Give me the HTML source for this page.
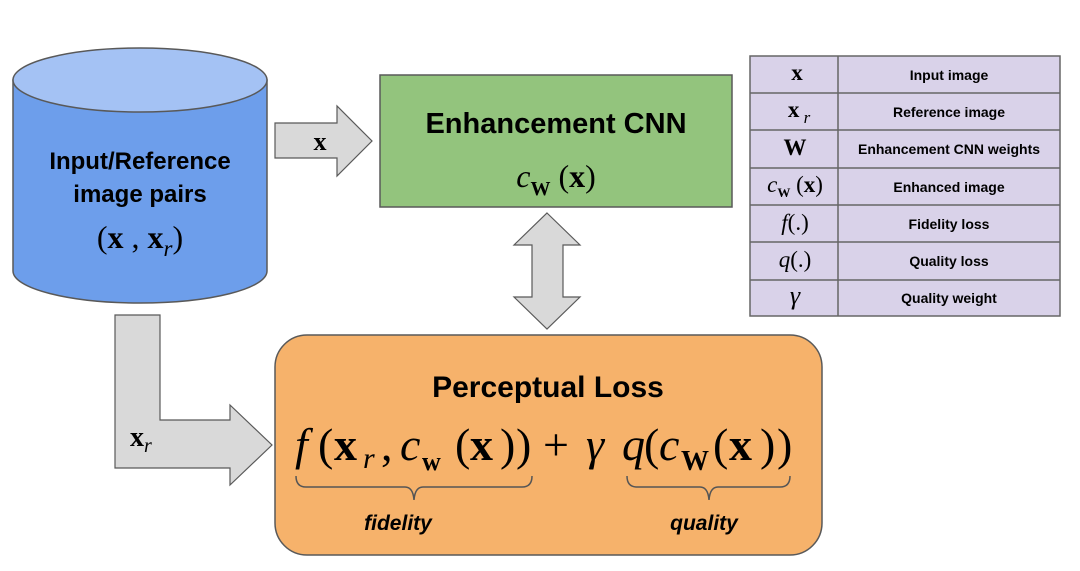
<!DOCTYPE html>
<html><head><meta charset="utf-8"><style>
html,body{margin:0;padding:0;background:#fff;}
svg{display:block}
.s{font-family:"Liberation Sans",sans-serif;font-weight:bold;}
.m{font-family:"Liberation Serif",serif;}
</style></head><body>
<svg width="1080" height="571" viewBox="0 0 1080 571" xmlns="http://www.w3.org/2000/svg">
<!-- cylinder -->
<path d="M13,80 L13,271 A127,32 0 0 0 267,271 L267,80 Z" fill="#6d9eeb" stroke="#595959" stroke-width="1.5"/>
<ellipse cx="140" cy="80" rx="127" ry="32" fill="#a4c2f4" stroke="#595959" stroke-width="1.5"/>
<text class="s" x="140" y="169" font-size="24" text-anchor="middle">Input/Reference</text>
<text class="s" x="140" y="202" font-size="24" text-anchor="middle">image pairs</text>
<text class="m" x="140" y="248" font-size="32" text-anchor="middle">(<tspan font-weight="bold">x</tspan> , <tspan font-weight="bold">x</tspan><tspan font-style="italic" font-size="23" dy="8">r</tspan><tspan dy="-8">)</tspan></text>
<!-- x arrow -->
<path d="M275,123 L337,123 L337,106 L372,141 L337,176 L337,158 L275,158 Z" fill="#d9d9d9" stroke="#595959" stroke-width="1.2"/>
<text class="m" x="320" y="150" font-size="26" font-weight="bold" text-anchor="middle">x</text>
<!-- green box -->
<rect x="380" y="75" width="352" height="132" fill="#93c47d" stroke="#595959" stroke-width="1.5"/>
<text class="s" x="556" y="133" font-size="29" text-anchor="middle">Enhancement CNN</text>
<text class="m" x="556" y="187" font-size="32" text-anchor="middle"><tspan font-style="italic">c</tspan><tspan font-size="20" font-weight="bold" dy="8">W</tspan><tspan dy="-8"> (</tspan><tspan font-weight="bold">x</tspan>)</text>
<!-- double arrow -->
<path d="M547,213 L580,245 L563,245 L563,297 L580,297 L547,329 L514,297 L532,297 L532,245 L514,245 Z" fill="#d9d9d9" stroke="#595959" stroke-width="1.2"/>
<!-- table -->
<rect x="750" y="56" width="310" height="260" fill="#d9d2e9" stroke="#666" stroke-width="1.5"/>
<g stroke="#666" stroke-width="1.5">
<line x1="838" y1="56" x2="838" y2="316"/>
<line x1="750" y1="93" x2="1060" y2="93"/>
<line x1="750" y1="130" x2="1060" y2="130"/>
<line x1="750" y1="168" x2="1060" y2="168"/>
<line x1="750" y1="205" x2="1060" y2="205"/>
<line x1="750" y1="242" x2="1060" y2="242"/>
<line x1="750" y1="280" x2="1060" y2="280"/>
</g>
<g class="s" font-size="14" text-anchor="middle">
<text x="949" y="80">Input image</text>
<text x="949" y="117">Reference image</text>
<text x="949" y="154">Enhancement CNN weights</text>
<text x="949" y="192">Enhanced image</text>
<text x="949" y="229">Fidelity loss</text>
<text x="949" y="266">Quality loss</text>
<text x="949" y="303">Quality weight</text>
</g>
<g class="m" font-size="23" text-anchor="middle">
<text x="797" y="80" font-weight="bold">x</text>
<text x="799" y="117"><tspan font-weight="bold">x</tspan><tspan font-style="italic" font-size="17" dy="6"> r</tspan></text>
<text x="795" y="155" font-weight="bold">W</text>
<text x="795" y="192"><tspan font-style="italic">c</tspan><tspan font-size="13" font-weight="bold" dy="5">W</tspan><tspan dy="-5"> (</tspan><tspan font-weight="bold">x</tspan>)</text>
<text x="795" y="230"><tspan font-style="italic">f</tspan>(.)</text>
<text x="795" y="267"><tspan font-style="italic">q</tspan>(.)</text>
<text x="795" y="304" font-style="italic" font-size="26">γ</text>
</g>
<!-- L arrow -->
<path d="M115,315 L160,315 L160,420 L230,420 L230,405 L272,445 L230,485 L230,468 L115,468 Z" fill="#d9d9d9" stroke="#595959" stroke-width="1.2"/>
<text class="m" x="130" y="446" font-size="28"><tspan font-weight="bold">x</tspan><tspan font-style="italic" font-size="20" dy="6">r</tspan></text>
<!-- orange -->
<rect x="275" y="335" width="547" height="220" rx="32" fill="#f6b26b" stroke="#595959" stroke-width="1.5"/>
<text class="s" x="548" y="397" font-size="30" text-anchor="middle">Perceptual Loss</text>
<g class="m" font-size="46">
<text x="295" y="460" font-style="italic">f</text>
<text x="318" y="460">(</text>
<text x="334" y="460" font-weight="bold">x</text>
<text x="363" y="468" font-style="italic" font-size="30">r</text>
<text x="381" y="460">,</text>
<text x="400" y="460" font-style="italic">c</text>
<text x="422" y="470" font-weight="bold" font-size="26">w</text>
<text x="455" y="460">(</text>
<text x="470" y="460" font-weight="bold">x</text>
<text x="500" y="460">)</text>
<text x="516" y="460">)</text>
<text x="543" y="460">+</text>
<text x="586" y="460" font-style="italic">γ</text>
<text x="622" y="460" font-style="italic">q</text>
<text x="644" y="460">(</text>
<text x="659" y="460" font-style="italic">c</text>
<text x="681" y="470" font-weight="bold" font-size="28">W</text>
<text x="713" y="460">(</text>
<text x="729" y="460" font-weight="bold">x</text>
<text x="760" y="460">)</text>
<text x="777" y="460">)</text>
</g>
<g fill="none" stroke="#555" stroke-width="1.5">
<path d="M296,476 Q296,487 306,487 L405,487 Q413,487 414,500 Q415,487 423,487 L522,487 Q532,487 532,476"/>
<path d="M627,476 Q627,487 637,487 L700,487 Q708,487 709,500 Q710,487 718,487 L780,487 Q790,487 790,476"/>
</g>
<text class="s" x="398" y="530" font-size="21" font-style="italic" text-anchor="middle">fidelity</text>
<text class="s" x="704" y="530" font-size="21" font-style="italic" text-anchor="middle">quality</text>
</svg>
</body></html>
